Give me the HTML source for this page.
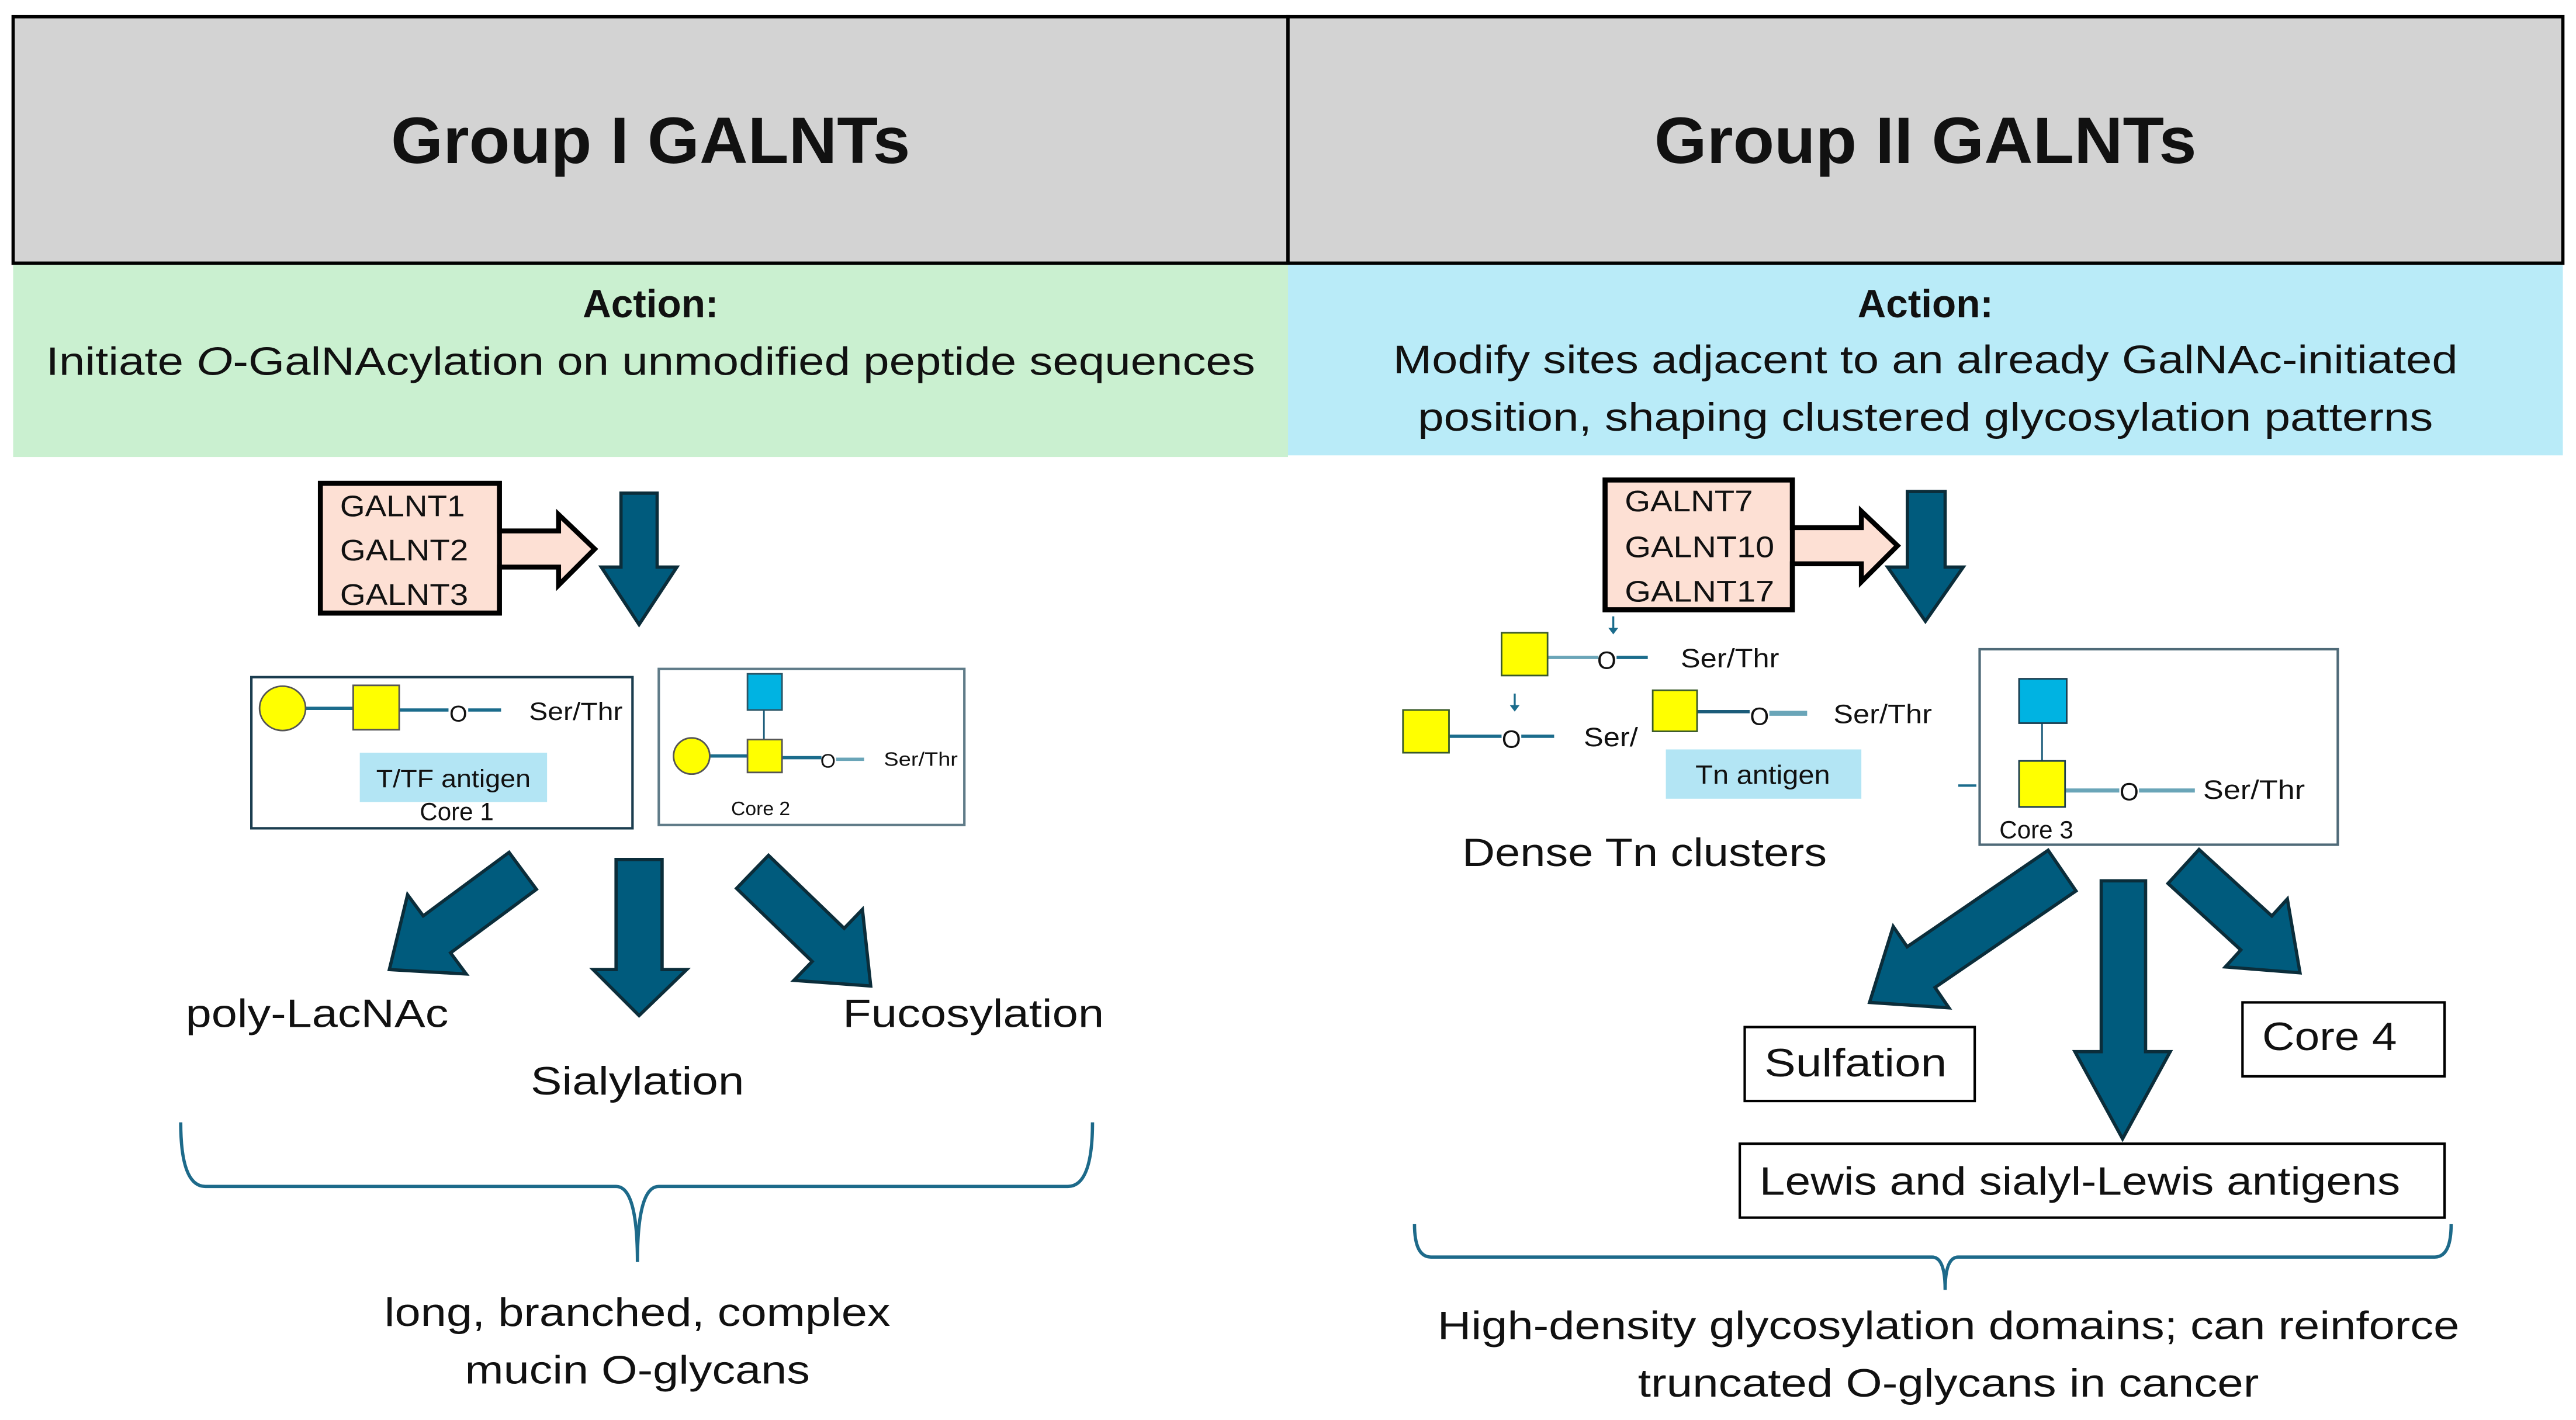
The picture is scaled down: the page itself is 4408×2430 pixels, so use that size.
<!DOCTYPE html>
<html><head><meta charset="utf-8"><style>html,body{margin:0;padding:0;background:#fff}svg{display:block}</style></head>
<body>
<svg width="4408" height="2430" viewBox="0 0 1568 864" xmlns="http://www.w3.org/2000/svg" font-family="'Liberation Sans', sans-serif" fill="#111">
<defs>
<polygon id="arr" points="0,-13 -38,-13 -38,-28 0,0 -38,28 -38,13" />
</defs>
<rect x="0" y="0" width="1568" height="864" fill="#fff"/>
<!-- headers -->
<rect x="8" y="10" width="776" height="150" fill="#d3d3d3" stroke="#000" stroke-width="2"/>
<rect x="784" y="10" width="776" height="150" fill="#d3d3d3" stroke="#000" stroke-width="2"/>
<text x="396" y="99" font-size="40" font-weight="bold" text-anchor="middle" textLength="316" lengthAdjust="spacingAndGlyphs">Group I GALNTs</text>
<text x="1172" y="99" font-size="40" font-weight="bold" text-anchor="middle" textLength="330" lengthAdjust="spacingAndGlyphs">Group II GALNTs</text>
<rect x="8" y="161" width="776" height="117" fill="#caf0d0"/>
<rect x="784" y="161" width="776" height="116" fill="#b9ebf8"/>
<text x="396" y="193" font-size="24" font-weight="bold" text-anchor="middle">Action:</text>
<text x="396" y="228" font-size="24" text-anchor="middle" textLength="736" lengthAdjust="spacingAndGlyphs">Initiate <tspan font-style="italic">O</tspan>-GalNAcylation on unmodified peptide sequences</text>
<text x="1172" y="193" font-size="24" font-weight="bold" text-anchor="middle">Action:</text>
<text x="1172" y="227" font-size="24" text-anchor="middle" textLength="648" lengthAdjust="spacingAndGlyphs">Modify sites adjacent to an already GalNAc-initiated</text>
<text x="1172" y="262" font-size="24" text-anchor="middle" textLength="618" lengthAdjust="spacingAndGlyphs">position, shaping clustered glycosylation patterns</text>

<!-- LEFT enzyme box -->
<polygon points="195,294 304,294 304,323 340,323 340,313 362,334 340,356 340,345 304,345 304,373 195,373" fill="#fde0d4" stroke="#000" stroke-width="3" stroke-linejoin="miter"/>
<polygon points="195,294 304,294 304,373 195,373" fill="none" stroke="#000" stroke-width="3"/>
<text x="207" y="314" font-size="18" textLength="76" lengthAdjust="spacingAndGlyphs">GALNT1</text>
<text x="207" y="341" font-size="18" textLength="78" lengthAdjust="spacingAndGlyphs">GALNT2</text>
<text x="207" y="368" font-size="18" textLength="78" lengthAdjust="spacingAndGlyphs">GALNT3</text>
<polygon points="378,300 400,300 400,345 412,345 389,380 366,345 378,345" fill="#005b7d" stroke="#0b2d3a" stroke-width="2"/>

<!-- Core 1 -->
<rect x="153" y="412" width="232" height="92" fill="#fff" stroke="#1b3d4f" stroke-width="1.5"/>
<line x1="186" y1="431" x2="215" y2="431" stroke="#1b6c8c" stroke-width="2"/>
<line x1="243" y1="432" x2="273" y2="432" stroke="#1b6c8c" stroke-width="2"/>
<line x1="285" y1="432" x2="305" y2="432" stroke="#1b6c8c" stroke-width="2"/>
<ellipse cx="172" cy="431" rx="14" ry="13.5" fill="#ffff00" stroke="#555" stroke-width="1"/>
<rect x="215" y="417" width="28" height="27" fill="#ffff00" stroke="#555" stroke-width="1"/>
<text x="279" y="439" font-size="14" text-anchor="middle">O</text>
<text x="322" y="438" font-size="15" textLength="57" lengthAdjust="spacingAndGlyphs">Ser/Thr</text>
<rect x="219" y="458" width="114" height="30" fill="#b3e5f4"/>
<text x="276" y="479" font-size="15" text-anchor="middle" textLength="94" lengthAdjust="spacingAndGlyphs">T/TF antigen</text>
<text x="278" y="499" font-size="15" text-anchor="middle">Core 1</text>

<!-- Core 2 -->
<rect x="401" y="407" width="186" height="95" fill="#fff" stroke="#5f7b88" stroke-width="1.5"/>
<line x1="465" y1="432" x2="465" y2="450" stroke="#1b5c7a" stroke-width="1"/>
<line x1="432" y1="460" x2="455" y2="460" stroke="#1b6c8c" stroke-width="2"/>
<line x1="476" y1="461" x2="500" y2="461" stroke="#1b6c8c" stroke-width="2"/>
<line x1="509" y1="462" x2="526" y2="462" stroke="#6aa5b8" stroke-width="2"/>
<rect x="455" y="410" width="21" height="22" fill="#00b3e2" stroke="#2a5566" stroke-width="1"/>
<ellipse cx="421" cy="460" rx="11" ry="11" fill="#ffff00" stroke="#555" stroke-width="1"/>
<rect x="455" y="450" width="21" height="20" fill="#ffff00" stroke="#555" stroke-width="1"/>
<text x="504" y="467" font-size="12" text-anchor="middle">O</text>
<text x="538" y="466" font-size="12" textLength="45" lengthAdjust="spacingAndGlyphs">Ser/Thr</text>
<text x="445" y="496" font-size="12">Core 2</text>

<!-- left bottom arrows -->
<polygon points="375,523 403,523 403,590 418,590 389,618 361,590 375,590" fill="#005b7d" stroke="#0b2d3a" stroke-width="2"/>
<g transform="translate(237,590) rotate(143.5)"><polygon points="0,0 -36,-30 -36,-14 -101,-14 -101,14 -36,14 -36,30" fill="#005b7d" stroke="#0b2d3a" stroke-width="2"/></g>
<g transform="translate(530,600) rotate(44)"><polygon points="0,0 -36,-30 -36,-14 -100,-14 -100,14 -36,14 -36,30" fill="#005b7d" stroke="#0b2d3a" stroke-width="2"/></g>
<text x="113" y="625" font-size="24" textLength="160" lengthAdjust="spacingAndGlyphs">poly-LacNAc</text>
<text x="388" y="666" font-size="24" text-anchor="middle" textLength="130" lengthAdjust="spacingAndGlyphs">Sialylation</text>
<text x="513" y="625" font-size="24" textLength="159" lengthAdjust="spacingAndGlyphs">Fucosylation</text>
<path d="M110,683 Q110,722 125,722 L375,722 Q388,722 388,768 Q388,722 401,722 L650,722 Q665,722 665,683" fill="none" stroke="#1d6a8a" stroke-width="2"/>
<text x="388" y="807" font-size="24" text-anchor="middle" textLength="308" lengthAdjust="spacingAndGlyphs">long, branched, complex</text>
<text x="388" y="842" font-size="24" text-anchor="middle" textLength="210" lengthAdjust="spacingAndGlyphs">mucin O-glycans</text>

<!-- RIGHT enzyme box -->
<polygon points="977,292 1091,292 1091,321 1133,321 1133,311 1155,332 1133,354 1133,343 1091,343 1091,371 977,371" fill="#fde0d4" stroke="#000" stroke-width="3"/>
<polygon points="977,292 1091,292 1091,371 977,371" fill="none" stroke="#000" stroke-width="3"/>
<text x="989" y="311" font-size="18" textLength="78" lengthAdjust="spacingAndGlyphs">GALNT7</text>
<text x="989" y="339" font-size="18" textLength="91" lengthAdjust="spacingAndGlyphs">GALNT10</text>
<text x="989" y="366" font-size="18" textLength="91" lengthAdjust="spacingAndGlyphs">GALNT17</text>
<polygon points="1161,299 1184,299 1184,345 1195,345 1172,378 1149,345 1161,345" fill="#005b7d" stroke="#0b2d3a" stroke-width="2"/>

<!-- Tn clusters -->
<line x1="982" y1="375" x2="982" y2="384" stroke="#1b6c8c" stroke-width="1.2"/>
<polygon points="979,382 985,382 982,386" fill="#1b6c8c"/>
<line x1="922" y1="422" x2="922" y2="431" stroke="#1b6c8c" stroke-width="1.2"/>
<polygon points="919,429 925,429 922,433" fill="#1b6c8c"/>
<line x1="942" y1="400" x2="973" y2="400" stroke="#6aa5b8" stroke-width="2"/>
<line x1="984" y1="400" x2="1003" y2="400" stroke="#1b6c8c" stroke-width="2"/>
<rect x="914" y="385" width="28" height="26" fill="#ffff00" stroke="#3a5a2a" stroke-width="1"/>
<text x="978" y="407" font-size="15" text-anchor="middle">O</text>
<text x="1023" y="406" font-size="16" textLength="60" lengthAdjust="spacingAndGlyphs">Ser/Thr</text>
<line x1="882" y1="448" x2="914" y2="448" stroke="#1b6c8c" stroke-width="2"/>
<line x1="926" y1="448" x2="946" y2="448" stroke="#1b6c8c" stroke-width="2"/>
<rect x="854" y="432" width="28" height="26" fill="#ffff00" stroke="#3a5a2a" stroke-width="1"/>
<text x="920" y="455" font-size="15" text-anchor="middle">O</text>
<text x="964" y="454" font-size="16" textLength="33" lengthAdjust="spacingAndGlyphs">Ser/</text>
<line x1="1033" y1="433" x2="1065" y2="433" stroke="#1b5c7a" stroke-width="2"/>
<line x1="1077" y1="434" x2="1100" y2="434" stroke="#6aa5b8" stroke-width="3"/>
<rect x="1006" y="420" width="27" height="25" fill="#ffff00" stroke="#3a5a2a" stroke-width="1"/>
<text x="1071" y="441" font-size="15" text-anchor="middle">O</text>
<text x="1116" y="440" font-size="16" textLength="60" lengthAdjust="spacingAndGlyphs">Ser/Thr</text>
<rect x="1014" y="456" width="119" height="30" fill="#b3e5f4"/>
<text x="1073" y="477" font-size="16" text-anchor="middle" textLength="82" lengthAdjust="spacingAndGlyphs">Tn antigen</text>
<text x="890" y="527" font-size="24" textLength="222" lengthAdjust="spacingAndGlyphs">Dense Tn clusters</text>

<!-- Core 3 -->
<rect x="1205" y="395" width="218" height="119" fill="#fff" stroke="#4f6a78" stroke-width="1.5"/>
<line x1="1192" y1="478" x2="1203" y2="478" stroke="#1b6c8c" stroke-width="1.5"/>
<line x1="1243" y1="440" x2="1243" y2="463" stroke="#1b5c7a" stroke-width="1"/>
<line x1="1257" y1="481" x2="1290" y2="481" stroke="#6aa5b8" stroke-width="2.5"/>
<line x1="1302" y1="481" x2="1336" y2="481" stroke="#6aa5b8" stroke-width="2.5"/>
<rect x="1229" y="413" width="29" height="27" fill="#00b3e2" stroke="#1b3d4f" stroke-width="1"/>
<rect x="1229" y="463" width="28" height="28" fill="#ffff00" stroke="#1b3d4f" stroke-width="1"/>
<text x="1296" y="487" font-size="15" text-anchor="middle">O</text>
<text x="1341" y="486" font-size="16" textLength="62" lengthAdjust="spacingAndGlyphs">Ser/Thr</text>
<text x="1217" y="510" font-size="15">Core 3</text>

<!-- right bottom arrows -->
<g transform="translate(1138,610) rotate(145.6)"><polygon points="0,0 -38,-30 -38,-15 -142,-15 -142,15 -38,15 -38,30" fill="#005b7d" stroke="#0b2d3a" stroke-width="2"/></g>
<polygon points="1279,536 1306,536 1306,640 1321,640 1292,693 1263,640 1279,640" fill="#005b7d" stroke="#0b2d3a" stroke-width="2"/>
<g transform="translate(1400,592) rotate(42.4)"><polygon points="0,0 -36,-28 -36,-14 -96,-14 -96,14 -36,14 -36,28" fill="#005b7d" stroke="#0b2d3a" stroke-width="2"/></g>
<rect x="1062" y="625" width="140" height="45" fill="#fff" stroke="#000" stroke-width="1.5"/>
<text x="1074" y="655" font-size="24" textLength="111" lengthAdjust="spacingAndGlyphs">Sulfation</text>
<rect x="1365" y="610" width="123" height="45" fill="#fff" stroke="#000" stroke-width="1.5"/>
<text x="1377" y="639" font-size="24" textLength="82" lengthAdjust="spacingAndGlyphs">Core 4</text>
<rect x="1059" y="696" width="429" height="45" fill="#fff" stroke="#000" stroke-width="1.5"/>
<text x="1071" y="727" font-size="24" textLength="390" lengthAdjust="spacingAndGlyphs">Lewis and sialyl-Lewis antigens</text>
<path d="M861,745 Q861,765 871,765 L1176,765 Q1184,765 1184,785 Q1184,765 1192,765 L1482,765 Q1492,765 1492,745" fill="none" stroke="#1d6a8a" stroke-width="2"/>
<text x="1186" y="815" font-size="24" text-anchor="middle" textLength="622" lengthAdjust="spacingAndGlyphs">High-density glycosylation domains; can reinforce</text>
<text x="1186" y="850" font-size="24" text-anchor="middle" textLength="378" lengthAdjust="spacingAndGlyphs">truncated O-glycans in cancer</text>
</svg>
</body></html>
